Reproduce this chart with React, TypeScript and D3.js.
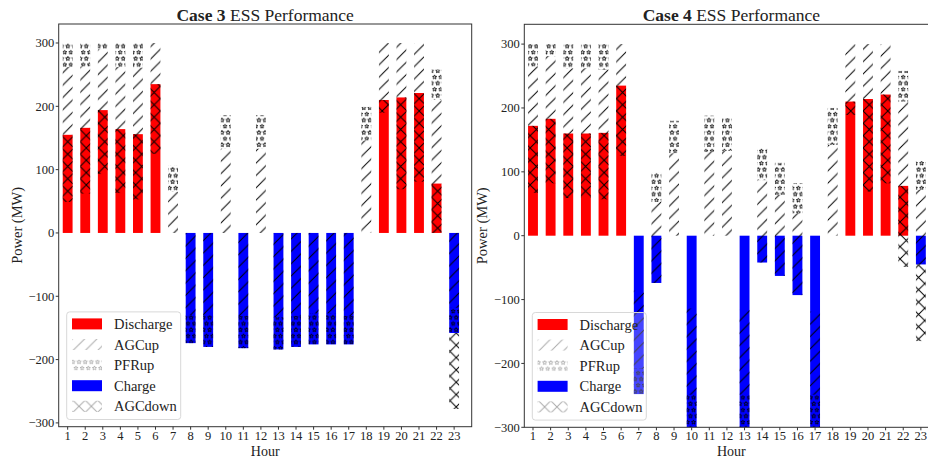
import React from "react";
import * as d3 from "d3";

// hours on the x axis
const hours = [1, 2, 3, 4, 5, 6, 7, 8, 9, 10, 11, 12, 13, 14, 15, 16, 17, 18, 19, 20, 21, 22, 23];
const yTicks = [-300, -200, -100, 0, 100, 200, 300];
const legendItems = ["Discharge", "AGCup", "PFRup", "Charge", "AGCdown"];

type Seg = [number, number] | null;

// Case 3 (MW)
const discharge3 = [155, 166, 194, 164, 156, 235, 0, 0, 0, 0, 0, 0, 0, 0, 0, 0, 0, 0, 210, 214, 221, 78, 0];
const charge3 = [0, 0, 0, 0, 0, 0, 0, -174, -180, 0, -182, 0, -184, -180, -176, -176, -176, 0, 0, 0, 0, 0, -158];
const agcUp3: Seg[] = [
  [155, 262], [166, 263], [194, 290], [164, 262], [156, 261], [235, 300], [0, 65], [-130, 0], [-130, 0],
  [0, 133], [-131, 0], [0, 133], [-133, 0], [-131, 0], [-127, 0], [-127, 0], [-131, 0], [0, 146],
  [210, 300], [214, 300], [221, 300], [78, 210], [-118, 0],
];
const pfrUp3: Seg[] = [
  [262, 300], [263, 300], [290, 300], [262, 300], [261, 300], null, [65, 106], [-174, -130], [-180, -130],
  [133, 186], [-182, -131], [133, 186], [-184, -133], [-180, -131], [-176, -127], [-176, -127], [-176, -131],
  [146, 199], null, null, null, [210, 258], [-158, -118],
];
const agcDown3: Seg[] = [
  [49, 155], [62, 166], [93, 194], [63, 164], [53, 156], [125, 235], null, null, null, null, null, null,
  null, null, null, null, null, null, [190, 210], [69, 214], [81, 221], [0, 78], [-278, -158],
];

// Case 4 (MW)
const discharge4 = [172, 183, 160, 160, 161, 235, 0, 0, 0, 0, 0, 0, 0, 0, 0, 0, 0, 0, 210, 214, 221, 78, 0];
const charge4 = [0, 0, 0, 0, 0, 0, -248, -74, 0, -300, 0, 0, -300, -42, -63, -93, -300, 0, 0, 0, 0, 0, -45];
const agcUp4: Seg[] = [
  [172, 265], [183, 281], [160, 262], [160, 262], [161, 260], [235, 300], [-208, -86], [-74, 53], [0, 129],
  [-249, -114], [0, 131], [0, 133], [-249, -116], [-42, 87], [-63, 64], [-93, 35], [-249, -119], [0, 142],
  [210, 300], [214, 300], [221, 300], [78, 210], [-45, 72],
];
const pfrUp4: Seg[] = [
  [265, 300], [281, 300], [262, 300], [262, 300], [260, 300], null, [-248, -208], [53, 99], [129, 180],
  [-300, -249], [131, 188], [133, 184], [-300, -249], [87, 137], [64, 114], [35, 82], [-300, -249],
  [142, 200], null, null, null, [210, 258], [72, 117],
];
const agcDown4: Seg[] = [
  [67, 172], [82, 183], [59, 160], [59, 160], [57, 161], [125, 235], null, null, null, null, null, null,
  null, null, null, null, null, null, [189, 210], [69, 214], [82, 221], [-49, 78], [-165, -45],
];

const FONT = "'Liberation Serif', 'DejaVu Serif', serif";
const TXT = "#222";
const S = 12.33; // hatch spacing
const BAR_W = 0.56;

function starPath(cx: number, cy: number, R: number, r: number) {
  const pts: string[] = [];
  for (let i = 0; i < 10; i++) {
    const a = -Math.PI / 2 + (i * Math.PI) / 5;
    const rad = i % 2 === 0 ? R : r;
    pts.push(`${(cx + rad * Math.cos(a)).toFixed(2)},${(cy + rad * Math.sin(a)).toFixed(2)}`);
  }
  return "M" + pts.join("L") + "Z";
}

function Patterns({ suffix, color }: { suffix: string; color: string }) {
  const h = S / 2;
  return (
    <>
      <pattern id={"diag" + suffix} patternUnits="userSpaceOnUse" width={S} height={S}>
        <path d={`M0,${S}L${S},0M-1,1L1,-1M${S - 1},${S + 1}L${S + 1},${S - 1}`} stroke={color} strokeWidth={1} />
      </pattern>
      <pattern id={"cross" + suffix} patternUnits="userSpaceOnUse" width={S} height={S}>
        <path d={`M0,${S}L${S},0M0,0L${S},${S}`} stroke={color} strokeWidth={1} />
      </pattern>
      <pattern id={"star" + suffix} patternUnits="userSpaceOnUse" width={h} height={S}>
        <path
          d={starPath(h / 2, h / 2, 2.2, 0.95) + starPath(0, h * 1.5, 2.2, 0.95) + starPath(h, h * 1.5, 2.2, 0.95)}
          fill="none"
          stroke={color}
          strokeWidth={0.85}
        />
      </pattern>
    </>
  );
}

type PanelProps = {
  id: string;
  caseNo: string;
  x0: number;
  x1: number;
  top: number;
  bottom: number;
  xDomain: [number, number];
  yDomain: [number, number];
  discharge: number[];
  charge: number[];
  agcUp: Seg[];
  pfrUp: Seg[];
  agcDown: Seg[];
};

function Panel(p: PanelProps) {
  const x = d3.scaleLinear().domain(p.xDomain).range([p.x0, p.x1]);
  const y = d3.scaleLinear().domain(p.yDomain).range([p.bottom, p.top]);
  const bw = x(1 + BAR_W) - x(1);
  const cx = (p.x0 + p.x1) / 2;
  const cy = (p.top + p.bottom) / 2;
  const rect = (h: number, lo: number, hi: number, fill: string, key: string) => (
    <rect key={key} x={x(h) - bw / 2} width={bw} y={y(Math.max(lo, hi))} height={Math.abs(y(lo) - y(hi))} fill={fill} />
  );
  const segs = (arr: Seg[], fill: string, name: string) =>
    arr.map((s, i) => (s ? rect(hours[i], s[0], s[1], fill, name + i) : null));

  const lx = p.x0 + 8;
  const lh = 107.6;
  const ly = p.bottom - 7.2 - lh;
  const legendFill = ["#ff0000", "url(#diagG)", "url(#starG)", "#0000ff", "url(#crossG)"];

  return (
    <g>
      <clipPath id={"clip" + p.id}>
        <rect x={p.x0} y={p.top} width={p.x1 - p.x0} height={p.bottom - p.top} />
      </clipPath>
      <g clipPath={`url(#clip${p.id})`}>
        {p.discharge.map((v, i) => (v > 0 ? rect(hours[i], 0, v, "#ff0000", "d" + i) : null))}
        {p.charge.map((v, i) => (v < 0 ? rect(hours[i], v, 0, "#0000ff", "c" + i) : null))}
        {segs(p.agcDown, "url(#crossK)", "ad")}
        {segs(p.agcUp, "url(#diagK)", "au")}
        {segs(p.pfrUp, "url(#starK)", "pf")}
      </g>
      {/* spines */}
      <rect x={p.x0} y={p.top} width={p.x1 - p.x0} height={p.bottom - p.top} fill="none" stroke="#333" strokeWidth={1} />
      {/* y ticks */}
      {yTicks.map((t) => (
        <g key={"yt" + t}>
          <line x1={p.x0 - 3} x2={p.x0} y1={y(t)} y2={y(t)} stroke="#333" />
          <text x={p.x0 - 4.5} y={y(t)} dy="0.35em" textAnchor="end" fontSize={12.5} fontFamily={FONT} fill={TXT}>
            {t < 0 ? "\u2212" + Math.abs(t) : t}
          </text>
        </g>
      ))}
      {/* x ticks */}
      {hours.map((h) => (
        <g key={"xt" + h}>
          <line x1={x(h)} x2={x(h)} y1={p.bottom} y2={p.bottom + 3} stroke="#333" />
          <text x={x(h)} y={440} textAnchor="middle" fontSize={12.5} fontFamily={FONT} fill={TXT}>
            {h}
          </text>
        </g>
      ))}
      <text x={cx} y={455.5} textAnchor="middle" fontSize={14} fontFamily={FONT} fill={TXT}>
        Hour
      </text>
      <text
        transform={`translate(${p.x0 - 42},${cy}) rotate(-90)`}
        dy="0.35em"
        textAnchor="middle"
        fontSize={14.5}
        fontFamily={FONT}
        fill={TXT}
      >
        Power (MW)
      </text>
      <text x={cx} y={21} textAnchor="middle" fontSize={17.5} fontFamily={FONT} fill={TXT}>
        <tspan fontWeight="bold">Case {p.caseNo}</tspan> ESS Performance
      </text>
      {/* legend */}
      <g transform={`translate(${lx},${ly})`}>
        <rect x={0} y={0} width={114} height={lh} rx={3} fill="#fff" fillOpacity={0.27} stroke="#d8d8d8" strokeWidth={1} />
        {legendItems.map((name, i) => (
          <g key={name} transform={`translate(0,${12 + i * 20.6})`}>
            <rect x={5.3} y={-5.5} width={30} height={11} fill={legendFill[i]} />
            <text x={47.3} y={0} dy="0.35em" fontSize={14.5} fontFamily={FONT} fill={TXT}>
              {name}
            </text>
          </g>
        ))}
      </g>
    </g>
  );
}

export default function App() {
  return (
    <svg width={928} height={457} style={{ position: "absolute", left: 0, top: 0, background: "#fff" }}>
      <defs>
        <Patterns suffix="K" color="#000" />
        <Patterns suffix="G" color="#aaa" />
      </defs>
      <rect width={928} height={457} fill="#fff" />
      <Panel
        id="a"
        caseNo="3"
        x0={58.7}
        x1={471.7}
        top={24}
        bottom={426.7}
        xDomain={[0.49, 24.0]}
        yDomain={[-306, 330]}
        discharge={discharge3}
        charge={charge3}
        agcUp={agcUp3}
        pfrUp={pfrUp3}
        agcDown={agcDown3}
      />
      <Panel
        id="b"
        caseNo="4"
        x0={524.3}
        x1={938.5}
        top={24.3}
        bottom={427.3}
        xDomain={[0.507, 24.0]}
        yDomain={[-300, 331]}
        discharge={discharge4}
        charge={charge4}
        agcUp={agcUp4}
        pfrUp={pfrUp4}
        agcDown={agcDown4}
      />
    </svg>
  );
}
